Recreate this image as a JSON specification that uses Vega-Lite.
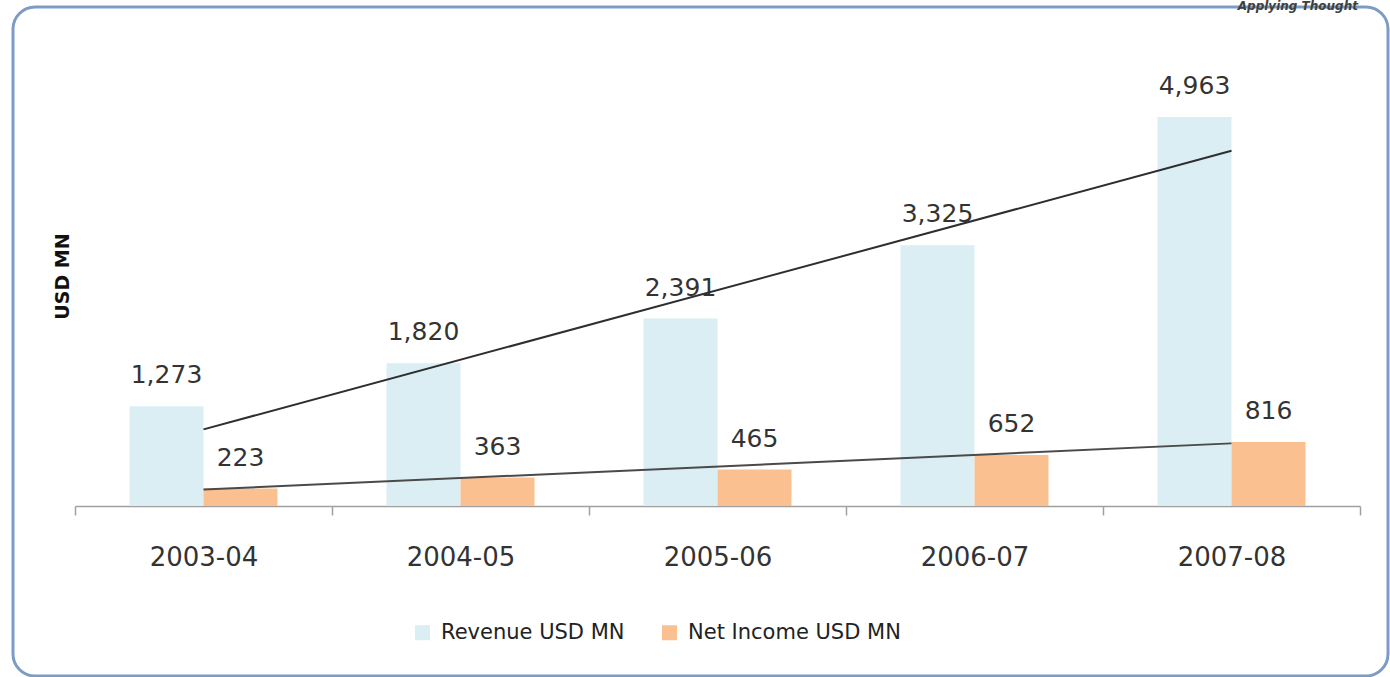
{
  "$schema": "https://vega.github.io/schema/vega-lite/v6.json",
  "width": 1375,
  "height": 669,
  "autosize": {"type": "none"},
  "padding": {"left": 13, "top": 7, "right": 2, "bottom": 1},
  "background": "white",
  "title": {"text": "Applying Thought", "anchor": "end", "orient": "top", "fontSize": 12, "fontStyle": "italic", "fontWeight": "bold", "font": "DejaVu Sans", "color": "#404040", "offset": -15, "baseline": "alphabetic", "dx": -30},
  "config": {
    "view": {"stroke": "#7C9CC6", "strokeWidth": 3, "cornerRadius": 22, "fill": "white"},
    "font": "DejaVu Sans"
  },
  "datasets": {
    "main": [
      {"year": "2003-04", "idx": 0, "series": "Revenue USD MN", "value": 1273},
      {"year": "2003-04", "idx": 0, "series": "Net Income USD MN", "value": 223},
      {"year": "2004-05", "idx": 1, "series": "Revenue USD MN", "value": 1820},
      {"year": "2004-05", "idx": 1, "series": "Net Income USD MN", "value": 363},
      {"year": "2005-06", "idx": 2, "series": "Revenue USD MN", "value": 2391},
      {"year": "2005-06", "idx": 2, "series": "Net Income USD MN", "value": 465},
      {"year": "2006-07", "idx": 3, "series": "Revenue USD MN", "value": 3325},
      {"year": "2006-07", "idx": 3, "series": "Net Income USD MN", "value": 652},
      {"year": "2007-08", "idx": 4, "series": "Revenue USD MN", "value": 4963},
      {"year": "2007-08", "idx": 4, "series": "Net Income USD MN", "value": 816}
    ]
  },
  "data": {"name": "main"},
  "encoding": {
    "x": {
      "field": "year", "type": "nominal", "sort": null,
      "scale": {"range": [62, 1347], "paddingInner": 0, "paddingOuter": 0},
      "axis": {
        "title": null, "orient": "bottom", "offset": -170, "grid": false,
        "domainColor": "#A0A0A0", "domainWidth": 1.5,
        "tickColor": "#A0A0A0", "tickWidth": 1.5, "tickSize": 9, "tickBand": "extent",
        "labelFont": "DejaVu Sans", "labelFontSize": 26, "labelColor": "#333333",
        "labelPadding": 29, "labelAngle": 0
      }
    },
    "y": {
      "field": "value", "type": "quantitative",
      "scale": {"domain": [-2169, 6366], "nice": false, "zero": false},
      "axis": {
        "title": "USD MN", "domain": false, "ticks": false, "labels": false, "grid": false,
        "titleFont": "DejaVu Sans", "titleFontSize": 19, "titleFontWeight": "bold", "titleColor": "#111111",
        "titleX": 49, "titleY": 269, "titleAngle": 270, "titleAlign": "center", "titleBaseline": "middle"
      }
    }
  },
  "layer": [
    {
      "mark": {"type": "bar"},
      "encoding": {
        "xOffset": {"field": "series", "type": "nominal", "scale": {"domain": ["Revenue USD MN", "Net Income USD MN"], "paddingInner": 0, "paddingOuter": 0.7365}},
        "color": {
          "field": "series", "type": "nominal",
          "scale": {"domain": ["Revenue USD MN", "Net Income USD MN"], "range": ["#DBEEF4", "#FAC08F"]},
          "legend": {
            "title": null, "orient": "none", "legendX": 399, "legendY": 615, "direction": "horizontal",
            "symbolType": "square", "symbolSize": 225, "symbolStrokeWidth": 0,
            "labelFont": "DejaVu Sans", "labelFontSize": 21, "labelColor": "#222222",
            "columnPadding": 34, "labelOffset": 8, "labelLimit": 400
          }
        }
      }
    },
    {
      "mark": {"type": "text", "dy": -31, "fontSize": 25, "color": "#333333", "baseline": "middle", "font": "DejaVu Sans"},
      "encoding": {
        "xOffset": {"field": "series", "type": "nominal", "scale": {"domain": ["Revenue USD MN", "Net Income USD MN"], "paddingInner": 0, "paddingOuter": 0.7365}},
        "text": {"field": "value", "type": "quantitative", "format": ","}
      }
    },
    {
      "transform": [
        {"regression": "value", "on": "idx", "groupby": ["series"], "method": "linear", "extent": [0, 4]},
        {"lookup": "idx", "from": {"data": {"name": "main"}, "key": "idx", "fields": ["year"]}}
      ],
      "mark": {"type": "line", "strokeWidth": 2},
      "encoding": {
        "detail": {"field": "series", "type": "nominal"},
        "stroke": {"field": "series", "type": "nominal", "scale": {"domain": ["Revenue USD MN", "Net Income USD MN"], "range": ["#2E2E2E", "#4A4A4A"]}, "legend": null}
      }
    }
  ]
}
